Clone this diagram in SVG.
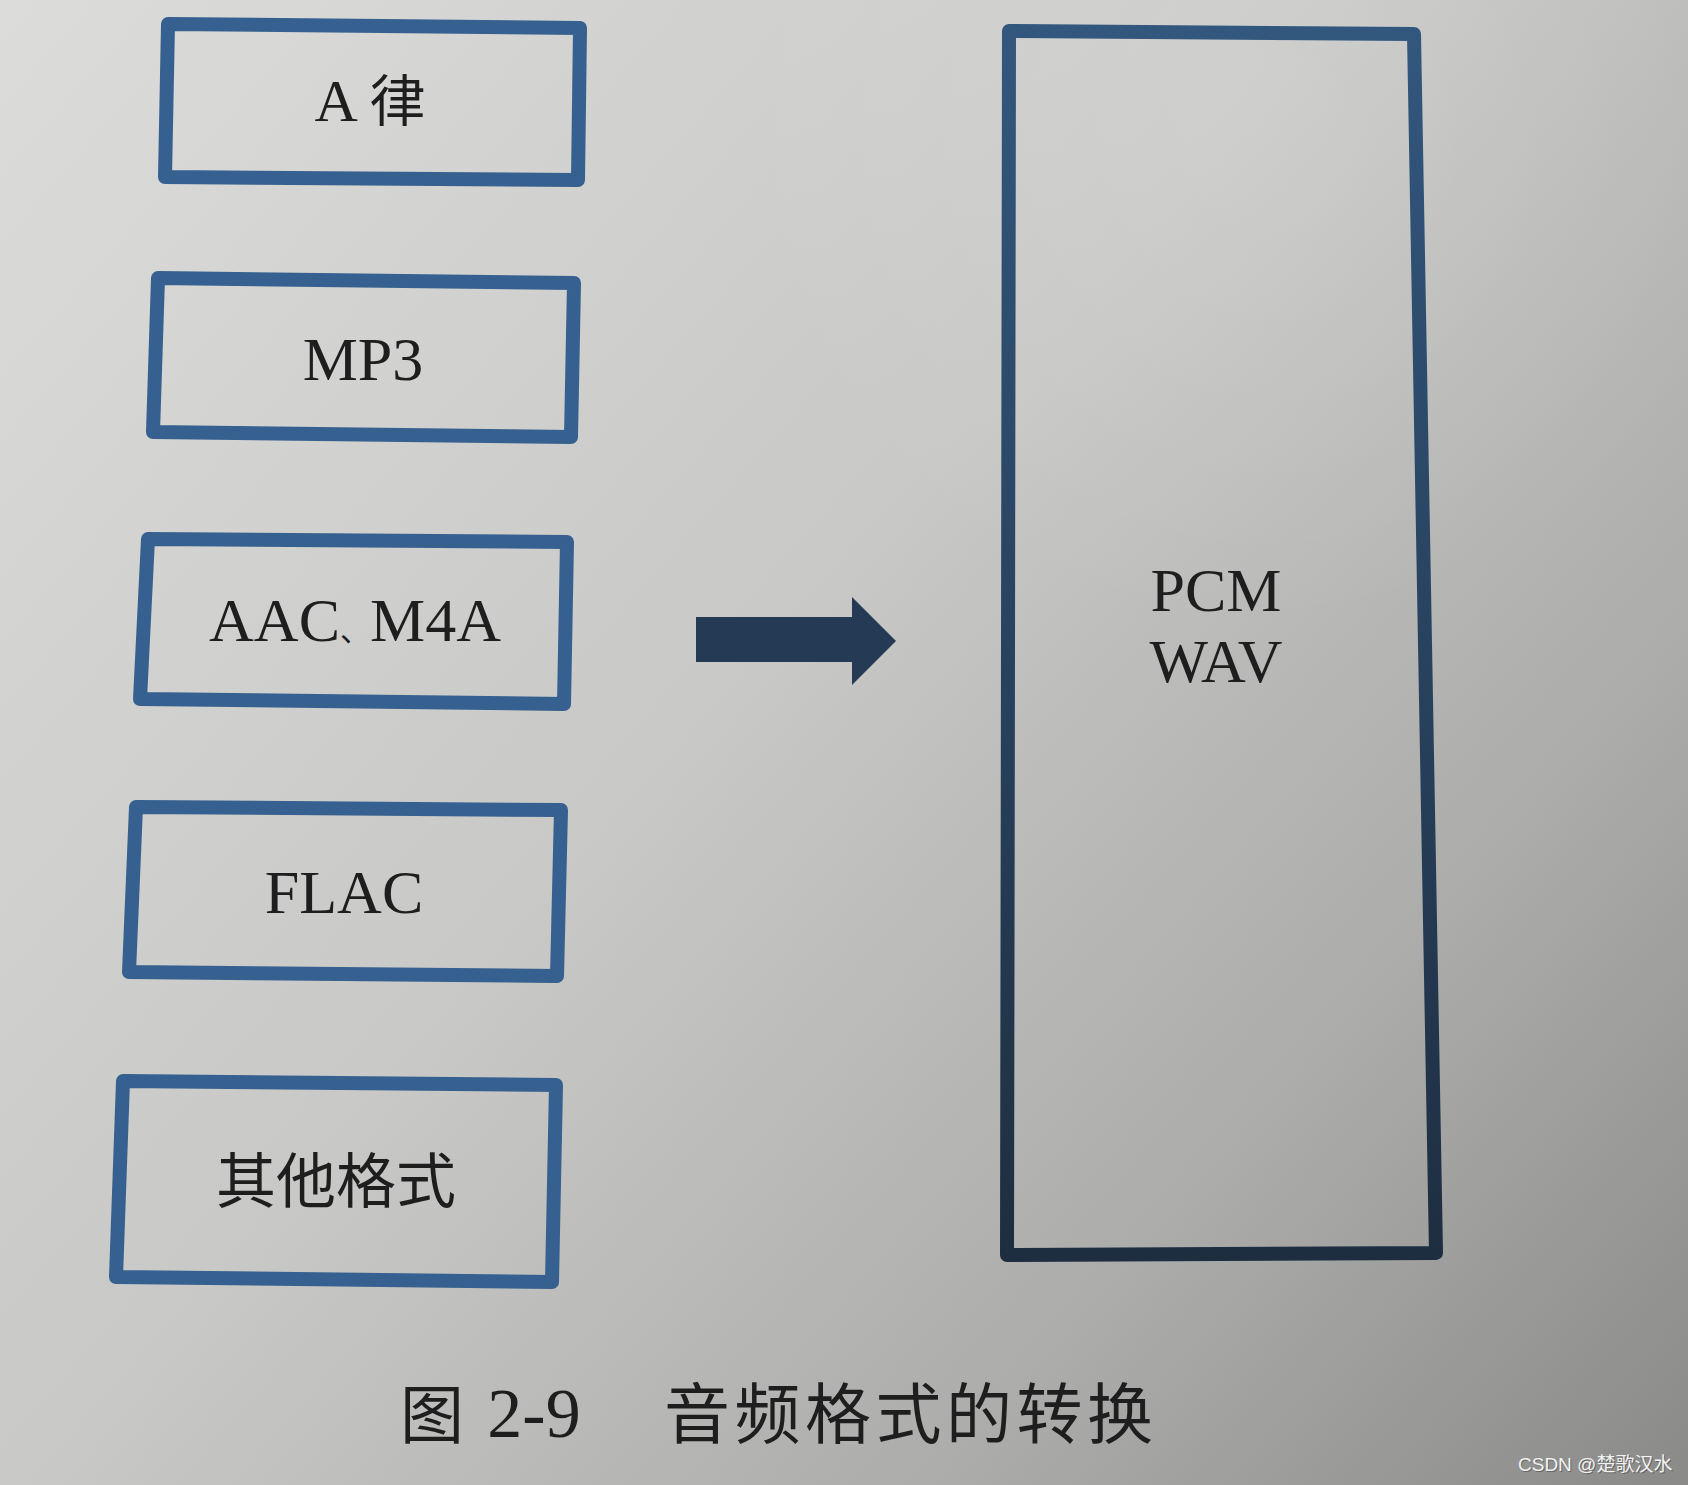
<svg xmlns="http://www.w3.org/2000/svg" width="1688" height="1485" viewBox="0 0 1688 1485">
<defs>
<linearGradient id="bg" x1="0" y1="0" x2="1688" y2="1485" gradientUnits="userSpaceOnUse">
<stop offset="0" stop-color="#dcdcda"/>
<stop offset="0.45" stop-color="#c8c8c6"/>
<stop offset="0.75" stop-color="#acacaa"/>
<stop offset="1" stop-color="#8a8a88"/>
</linearGradient>
<radialGradient id="glow" cx="1250" cy="120" r="520" gradientUnits="userSpaceOnUse">
<stop offset="0" stop-color="#ffffff" stop-opacity="0.12"/>
<stop offset="1" stop-color="#ffffff" stop-opacity="0"/>
</radialGradient>
<linearGradient id="pcmStroke" x1="0" y1="0" x2="0" y2="1262" gradientUnits="userSpaceOnUse">
<stop offset="0" stop-color="#33587f"/>
<stop offset="1" stop-color="#1e2e40"/>
</linearGradient>
<style>
.box{fill:none;stroke:#36608f;stroke-width:14;stroke-linejoin:round}
.pcm{fill:none;stroke:url(#pcmStroke);stroke-width:14;stroke-linejoin:round}
.lat{font-family:"Liberation Serif","Noto Sans CJK SC",serif;fill:#1e1e1e;text-anchor:middle}
.cjk{font-family:"Noto Sans CJK SC",sans-serif;fill:#1e1e1e}
</style>
</defs>
<rect x="0" y="0" width="1688" height="1485" fill="url(#bg)"/>
<rect x="0" y="0" width="1688" height="1485" fill="url(#glow)"/>

<g id="node-alaw">
<path class="box" d="M168,24 L580,28 L578,180 L165,177 Z"/>
<text class="lat" x="370" y="121" font-size="60">A <tspan font-family="Noto Sans CJK SC, sans-serif" font-size="56">律</tspan></text>
</g>
<g id="node-mp3">
<path class="box" d="M158,278 L574,283 L571,437 L153,432 Z"/>
<text class="lat" x="363" y="380" font-size="62">MP3</text>
</g>
<g id="node-aac">
<path class="box" d="M148,539 L567,542 L564,704 L140,699 Z"/>
<text class="lat" x="355" y="641" font-size="62">AAC<tspan font-family="Noto Sans CJK SC, sans-serif" font-size="30">、</tspan>M4A</text>
</g>
<g id="node-flac">
<path class="box" d="M136,807 L561,810 L557,976 L129,972 Z"/>
<text class="lat" x="344" y="913" font-size="62">FLAC</text>
</g>
<g id="node-other">
<path class="box" d="M123,1081 L556,1085 L552,1282 L116,1277 Z" stroke-width="15"/>
<text class="cjk" x="336" y="1203" font-size="60" text-anchor="middle">其他格式</text>
</g>
<g id="node-pcm">
<path class="pcm" d="M1009,31 L1414,34 L1436,1253 L1007,1255 Z"/>
<text class="lat" x="1216" y="611" font-size="62">PCM</text>
<text class="lat" x="1216" y="682" font-size="62">WAV</text>
</g>

<g id="connectors">
<path d="M696,617 L852,617 L852,597 L896,641 L852,685 L852,662 L696,662 Z" fill="#243a55"/>
</g>

<g id="caption">
<text class="cjk" x="400" y="1438" font-size="64">图</text>
<text class="lat" x="534" y="1437" font-size="70">2-9</text>
<text class="cjk" x="664" y="1438" font-size="66" letter-spacing="4.5">音频格式的转换</text>
</g>
<g id="watermark">
<text x="1519" y="1472" font-family="Liberation Sans, Noto Sans CJK SC, sans-serif" font-size="19" fill="#3a3a3a" opacity="0.5">CSDN @楚歌汉水</text>
<text x="1518" y="1471" font-family="Liberation Sans, Noto Sans CJK SC, sans-serif" font-size="19" fill="#f2f2f2">CSDN @楚歌汉水</text>
</g>
</svg>
